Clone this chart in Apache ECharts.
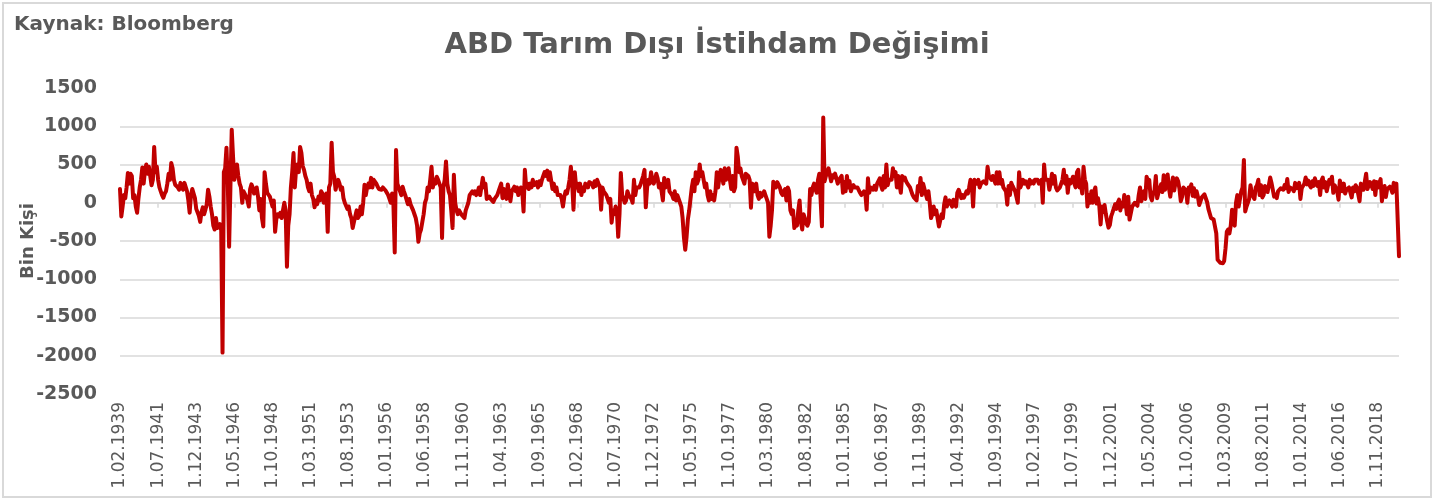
<!DOCTYPE html>
<html>
<head>
<meta charset="utf-8">
<script src="https://cdn.jsdelivr.net/npm/echarts@6/dist/echarts.min.js"></script>
<style>
html,body{margin:0;padding:0;background:#fff;}
#chart{width:1453px;height:500px;}
</style>
</head>
<body>
<div id="chart"></div>
<script>
// Monthly change in US non-farm payrolls (thousands), Feb 1939 - Mar 2020
var startYear = 1939, startMonth = 2, endYear = 2020, endMonth = 3;

var v1930s = [180, -180, -50, 100, 60, 200, 390, 250, 380, 350, 60];
var v1940s = [
  100, -50, -130, 50, 200, 300, 460, 250, 420, 500, 380, 470,
  350, 230, 300, 730, 400, 470, 300, 200, 150, 100, 65, 120,
  150, 250, 380, 300, 520, 450, 300, 235, 260, 200, 170, 260,
  200, 170, 260, 240, 150, 30, -130, 100, 180, 200, 60, -80,
  -100, -170, -250, -120, -60, -150, -90, -20, 170, 80, -50, -150,
  -300, -350, -200, -330, -350, -280, -360, -1959, 400, 450, 720, 250,
  -575, 200, 955, 600, 300, 470, 500, 350, 250, 200, 0, 150,
  150, 80, 30, -50, 180, 240, 200, 120, 150, 200, 80, -100,
  50, -200, -310, 400, 250, 130, 150, 80, 100, -50, 30, -380,
  -200, -150, -180, -130, -200, -100, 0, -100, -835, -300, -150, 200
];
var v1950s = [
  400, 650, 200, 450, 500, 400, 730, 650, 480, 430, 350, 300,
  200, 150, 250, 100, 50, -60, 30, -20, 80, 30, 150, 120,
  0, 80, 120, -380, 200, 250, 785, 400, 340, 170, 250, 300,
  250, 170, 200, 60, 0, -20, -80, -50, -150, -200, -330, -250,
  -250, -100, -200, -170, -50, -150, 0, 235, 100, 200, 250, 200,
  325, 200, 300, 280, 250, 210, 180, 200, 170, 200, 190, 160,
  180, 100, 50, 0, 120, -20, -650, 690, 250, 200, 210, 100,
  210, 150, 100, 80, -20, 50, -20, -60, -100, -150, -200, -300,
  -510, -400, -350, -250, -150, 0, 50, 200, 150, 300, 470, 200,
  300, 250, 340, 300, 250, 200, -460, 200, 300, 540, 250, 150
];
var v1960s = [
  100, -100, -330, 365, 0, -100, -150, -100, -120, -160, -150, -200,
  -100, -50, 0, 100, 80, 150, 120, 150, 100, 130, 200, 100,
  100, 325, 200, 250, 50, 30, 80, 50, 60, 10, 50, 30,
  100, 80, 200, 250, 60, 180, 100, 50, 240, 130, 20, 150,
  150, 210, 150, 200, 100, 80, 200, 150, -115, 430, 200, 250,
  180, 250, 200, 300, 230, 250, 270, 200, 280, 230, 300, 350,
  400, 350, 420, 300, 400, 380, 180, 250, 150, 200, 100, 80,
  100, 50, -50, 80, 150, 120, 200, 300, 470, 250, -90, 400,
  200, 250, 150, 250, 100, 200, 150, 250, 230, 200, 270, 250,
  250, 200, 280, 220, 300, 250, 220, -90, 200, 150, 130, 100
];
var v1970s = [
  100, 0, 50, -260, -100, -150, -50, -100, -445, -150, 390, 100,
  50, 0, 30, 150, 100, 80, 50, 0, 300, 100, 200, 220,
  200, 240, 250, 350, 430, -60, 200, 300, 250, 400, 300, 250,
  300, 380, 320, 200, 250, 150, 30, 325, 200, 250, 300, 150,
  130, 100, 50, 150, 30, 100, 50, 0, -50, -200, -450, -615,
  -450, -220, -100, 50, 200, 300, 150, 400, 250, 300, 500, 350,
  400, 300, 200, 250, 100, 30, 150, 50, 100, 30, 150, 400,
  200, 330, 430, 350, 250, 450, 300, 350, 450, 300, 180, 350,
  150, 200, 720, 600, 400, 450, 350, 300, 250, 380, 400, 350,
  300, -65, 250, 200, 150, 250, 100, 50, 130, 80, 100, 150
];
var v1980s = [
  100, 50, 0, -445, -300, -100, 275, 280, 200, 270, 250, 200,
  130, 100, 150, 180, 30, 200, 150, -100, -150, -100, -330, -250,
  -300, -100, 30, -250, -350, -150, -200, -270, -300, -250, 180, 100,
  200, 250, 180, 130, 300, 380, 400, -308, 1114, 280, 350, 360,
  450, 470, 280, 360, 330, 380, 320, 250, 300, 280, 350, 130,
  270, 150, 350, 200, 280, 150, 200, 230, 200, 220, 200, 200,
  130, 100, 80, 150, 120, -90, 320, 130, 200, 200, 170, 220,
  170, 250, 230, 320, 220, 170, 350, 200, 500, 230, 300, 280,
  300, 450, 350, 400, 200, 350, 250, 130, 350, 300, 330, 280,
  250, 250, 200, 150, 100, 70, 50, 30, 220, 150, 325, 100
];
var v1990s = [
  250, 180, 200, 50, 150, 0, -200, -150, -50, -150, -100, -80,
  -310, -300, -150, -200, -20, 70, -50, 0, 30, 20, -50, 40,
  0, -50, 130, 170, 120, 60, 100, 65, 50, 150, 120, 200,
  300, 250, -50, 300, 300, 250, 300, 200, 250, 250, 280, 300,
  250, 470, 350, 340, 300, 350, 300, 250, 400, 250, 400, 250,
  300, 200, 200, 150, -25, 220, 100, 260, 220, 200, 150, 130,
  0, 400, 200, 200, 300, 250, 280, 300, 200, 300, 250, 280,
  250, 300, 300, 300, 250, 250, 300, 0, 500, 300, 300, 300,
  170, 250, 380, 250, 350, 200, 160, 150, 200, 250, 300, 430,
  250, 350, 130, 300, 250, 250, 340, 250, 200, 400, 430, 200
];
var v2000s = [
  250, 120, 470, 300, 250, -50, 100, 0, 150, 0, 150, 200,
  -10, 60, -40, -283, -49, -122, -30, -150, -244, -325, -292, -178,
  -130, -140, -20, -80, 0, 40, -100, 0, -50, 100, 0, -150,
  80, -220, -200, -50, -50, 0, 0, -40, 100, 200, 20, 100,
  150, 50, 340, 250, 300, 80, 30, 120, 160, 350, 60, 130,
  130, 240, 140, 360, 170, 250, 370, 190, 80, 80, 330, 160,
  270, 320, 280, 180, 20, 80, 200, 180, 160, 0, 200, 170,
  240, 90, 190, 80, 150, 80, -30, -20, 70, 80, 110, 100,
  10, -80, -90, -200, -180, -220, -230, -400, -745, -760, -785, -770,
  -790, -760, -600, -380, -350, -400, -300, -90, -250, -300, 0, 100
];
var v2010s = [
  -50, 50, 150, 200, 560, -115, -50, 0, 50, 230, 130, 80,
  50, 200, 230, 300, 100, 230, 70, 100, 220, 200, 140, 230,
  330, 260, 240, 80, 110, 60, 150, 170, 190, 210, 170, 230,
  190, 310, 140, 200, 220, 180, 150, 260, 190, 210, 260, 50,
  190, 190, 250, 330, 240, 290, 230, 200, 280, 220, 320, 260,
  220, 270, 100, 290, 330, 200, 270, 150, 150, 300, 250, 340,
  130, 230, 230, 150, 40, 290, 290, 150, 250, 120, 170, 160,
  200, 190, 70, 200, 150, 230, 200, 180, 20, 250, 220, 170,
  180, 380, 180, 200, 270, 230, 180, 280, 100, 270, 200, 220,
  310, 20, 150, 220, 75, 180, 160, 210, 180, 130, 260, 150
];
var v2020s = [250, 270, -700];

var yTicks = { min: -2500, max: 1500, interval: 500 };
var titleText = 'ABD Tarım Dışı İstihdam Değişimi';
var sourceText = 'Kaynak: Bloomberg';
var yName = 'Bin Kişi';

var values = [].concat(v1930s, v1940s, v1950s, v1960s, v1970s, v1980s, v1990s, v2000s, v2010s, v2020s);

var categories = [];
(function () {
  var y = startYear, m = startMonth;
  while (y < endYear || (y === endYear && m <= endMonth)) {
    categories.push('1.' + (m < 10 ? '0' + m : m) + '.' + y);
    m++; if (m > 12) { m = 1; y++; }
  }
})();

var txt = '#595959';
var gridC = '#d9d9d9';
var FONT = 'DejaVu Sans';

var chart = echarts.init(document.getElementById('chart'), null, { renderer: 'canvas' });
chart.setOption({
  animation: false,
  backgroundColor: '#fff',
  grid: { left: 120, right: 54, top: 88, bottom: 106, containLabel: false },
  graphic: [
    { type: 'rect', shape: { x: 3, y: 3, width: 1428, height: 494 }, style: { fill: 'none', stroke: gridC, lineWidth: 2 }, silent: true },
    { type: 'text', x: 14, y: 25, style: { text: sourceText, fill: txt, fontFamily: FONT, fontSize: 20, fontWeight: 'bold', textVerticalAlign: 'middle' } },
    { type: 'text', x: 717, y: 45, style: { text: titleText, fill: txt, fontFamily: FONT, fontSize: 29, fontWeight: 'bold', textAlign: 'center', textVerticalAlign: 'middle' } }
  ],
  xAxis: [
    {
      type: 'category', data: categories, boundaryGap: false, position: 'bottom',
      axisLine: { show: false, onZero: false },
      axisTick: { show: false },
      splitLine: { show: false },
      axisLabel: { interval: 28, rotate: 90, margin: 8, color: txt, fontFamily: FONT, fontSize: 17 }
    },
    {
      type: 'category', data: categories, boundaryGap: false, position: 'top',
      axisLine: { show: true, onZero: true, lineStyle: { color: gridC, width: 1.5 } },
      axisTick: { show: true, inside: true, interval: 28, length: 5, lineStyle: { color: gridC, width: 1.5 } },
      axisLabel: { show: false },
      splitLine: { show: false }
    }
  ],
  yAxis: {
    type: 'value', min: yTicks.min, max: yTicks.max, interval: yTicks.interval,
    name: yName, nameLocation: 'middle', nameRotate: 90, nameGap: 83, nameMoveOverlap: false,
    nameTextStyle: { color: txt, fontFamily: FONT, fontSize: 18, fontWeight: 'bold' },
    axisLine: { show: false }, axisTick: { show: false },
    axisLabel: { color: txt, fontFamily: FONT, fontSize: 19, fontWeight: 'bold', margin: 23, formatter: function (v) { return String(v); } },
    splitLine: { show: true, lineStyle: { color: ['transparent', gridC, gridC, gridC, gridC, gridC, gridC, gridC, 'transparent'], width: 1.5 } }
  },
  series: [{
    type: 'line', data: values, xAxisIndex: 0, showSymbol: false, symbol: 'none',
    lineStyle: { color: '#C00000', width: 4, join: 'round', cap: 'round' },
    itemStyle: { color: '#C00000' }
  }]
});
</script>
</body>
</html>
